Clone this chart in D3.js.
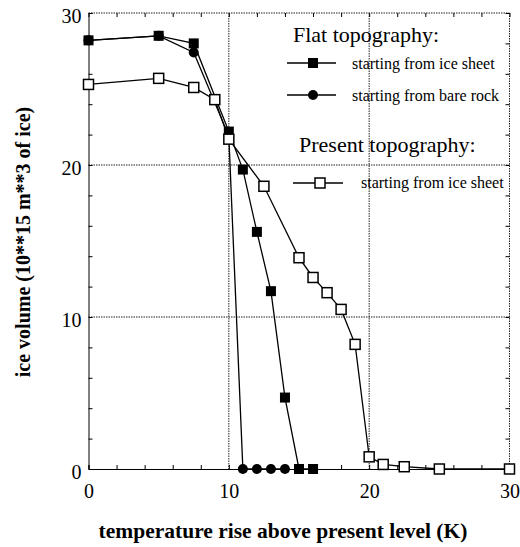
<!DOCTYPE html>
<html>
<head>
<meta charset="utf-8">
<script src="https://cdn.jsdelivr.net/npm/d3@7"></script>
<style>
  body { margin: 0; background: #fff; }
  text { font-family: "Liberation Serif", "Times New Roman", serif; fill: #000; }
</style>
</head>
<body>
<svg id="vis"></svg>
<script>
// temperature rise (K) and ice volume (10**15 m**3)
var flatIceX = [0, 5, 7.5, 10, 11, 12, 13, 14, 15, 16];
var flatIceY = [28.2, 28.5, 28.0, 22.2, 19.7, 15.6, 11.7, 4.7, 0, 0];

var flatRockX = [0, 5, 7.5, 10, 11, 12, 13, 14];
var flatRockY = [28.2, 28.5, 27.4, 21.9, 0, 0, 0, 0];

var presentX = [0, 5, 7.5, 9, 10, 12.5, 15, 16, 17, 18, 19, 20, 21, 22.5, 25, 30];
var presentY = [25.3, 25.7, 25.1, 24.3, 21.7, 18.6, 13.9, 12.6, 11.6, 10.5, 8.2, 0.8, 0.3, 0.15, 0, 0];

var tickVals = d3.range(0, 31, 2);
var labelVals = [0, 10, 20, 30];
var gridVals = [10, 20];

function zip(xs, ys) {
    return xs.map(function (x, i) { return {x: x, y: ys[i]}; });
}

var W = 520, H = 547;
var svg = d3.select("#vis").attr("width", W).attr("height", H);

var xScale = d3.scaleLinear().domain([0, 30]).range([88.5, 509.5]);
var yScale = d3.scaleLinear().domain([0, 30]).range([469, 13]);

var x0 = xScale(0), x1 = xScale(30), y0 = yScale(0), y1 = yScale(30);

// grid lines
svg.selectAll(".vgrid").data(gridVals).enter().append("line")
    .attr("x1", function (d) { return xScale(d); })
    .attr("x2", function (d) { return xScale(d); })
    .attr("y1", y1).attr("y2", y0)
    .attr("stroke", "#222").attr("stroke-width", 1).attr("stroke-dasharray", "1.5,1");
svg.selectAll(".hgrid").data(gridVals).enter().append("line")
    .attr("y1", function (d) { return yScale(d); })
    .attr("y2", function (d) { return yScale(d); })
    .attr("x1", x0).attr("x2", x1)
    .attr("stroke", "#222").attr("stroke-width", 1).attr("stroke-dasharray", "1.5,1");

// frame: top and right dotted
svg.append("line").attr("x1", x0).attr("x2", x1).attr("y1", y1).attr("y2", y1)
    .attr("stroke", "#222").attr("stroke-dasharray", "1.5,1");
svg.append("line").attr("x1", x1).attr("x2", x1).attr("y1", y1).attr("y2", y0)
    .attr("stroke", "#222").attr("stroke-dasharray", "1.5,1");

function fmt(d) { return labelVals.indexOf(d) >= 0 ? d : ""; }

var xAxis = d3.axisBottom(xScale).tickValues(tickVals).tickSize(-4).tickPadding(15).tickFormat(fmt);
var yAxis = d3.axisLeft(yScale).tickValues(tickVals).tickSize(-4).tickPadding(7).tickFormat(fmt);

var gx = svg.append("g").attr("transform", "translate(0," + y0 + ")").call(xAxis);
var gy = svg.append("g").attr("transform", "translate(" + x0 + ",0)").call(yAxis);

svg.append("g").attr("transform", "translate(0," + y1 + ")")
    .call(d3.axisTop(xScale).tickValues(tickVals).tickSize(-4).tickFormat(""))
    .select(".domain").remove();
svg.append("g").attr("transform", "translate(" + x1 + ",0)")
    .call(d3.axisRight(yScale).tickValues(tickVals).tickSize(-4).tickFormat(""))
    .select(".domain").remove();

svg.selectAll(".tick text").style("font-family", "'Liberation Serif', serif").style("font-size", "20px");
gy.selectAll(".tick text").attr("dy", "0.45em");
svg.selectAll(".domain, .tick line").attr("stroke", "#000");

// series
var line = d3.line().x(function (d) { return xScale(d.x); }).y(function (d) { return yScale(d.y); });

var rock = zip(flatRockX, flatRockY);
var ice = zip(flatIceX, flatIceY);
var present = zip(presentX, presentY);

[present, rock, ice].forEach(function (s) {
    svg.append("path").datum(s).attr("d", line)
        .attr("fill", "none").attr("stroke", "#000").attr("stroke-width", 1.3);
});

svg.selectAll(".circ").data(rock).enter().append("circle")
    .attr("cx", function (d) { return xScale(d.x); })
    .attr("cy", function (d) { return yScale(d.y); })
    .attr("r", 5).attr("fill", "#000");

svg.selectAll(".fsq").data(ice).enter().append("rect")
    .attr("x", function (d) { return xScale(d.x) - 5; })
    .attr("y", function (d) { return yScale(d.y) - 5; })
    .attr("width", 10).attr("height", 10).attr("fill", "#000");

svg.selectAll(".osq").data(present).enter().append("rect")
    .attr("x", function (d) { return xScale(d.x) - 5; })
    .attr("y", function (d) { return yScale(d.y) - 5; })
    .attr("width", 10).attr("height", 10)
    .attr("fill", "#fff").attr("stroke", "#000").attr("stroke-width", 1.5);

// legend
svg.append("text").attr("x", 293).attr("y", 42).style("font-size", "22px").text("Flat topography:");
svg.append("text").attr("x", 299).attr("y", 152).style("font-size", "22px").text("Present topography:");

var leg = svg.append("g");
leg.append("line").attr("x1", 287).attr("x2", 336).attr("y1", 63).attr("y2", 63).attr("stroke", "#000").attr("stroke-width", 1.5);
leg.append("rect").attr("x", 308).attr("y", 58).attr("width", 10).attr("height", 10).attr("fill", "#000");
leg.append("text").attr("x", 352).attr("y", 69).style("font-size", "16px").text("starting from ice sheet");

leg.append("line").attr("x1", 287).attr("x2", 336).attr("y1", 95).attr("y2", 95).attr("stroke", "#000").attr("stroke-width", 1.5);
leg.append("circle").attr("cx", 313).attr("cy", 95).attr("r", 5).attr("fill", "#000");
leg.append("text").attr("x", 352).attr("y", 101).style("font-size", "16px").text("starting from bare rock");

leg.append("line").attr("x1", 293).attr("x2", 343).attr("y1", 183).attr("y2", 183).attr("stroke", "#000").attr("stroke-width", 1.5);
leg.append("rect").attr("x", 315).attr("y", 178).attr("width", 10).attr("height", 10)
    .attr("fill", "#fff").attr("stroke", "#000").attr("stroke-width", 1.5);
leg.append("text").attr("x", 361).attr("y", 188).style("font-size", "16px").text("starting from ice sheet");

// axis titles
svg.append("text").attr("x", 283).attr("y", 538).attr("text-anchor", "middle")
    .style("font-size", "21.5px").style("font-weight", "bold")
    .text("temperature rise above present level (K)");

svg.append("text").attr("transform", "translate(30,242) rotate(-90)").attr("text-anchor", "middle")
    .style("font-size", "20px").style("font-weight", "bold")
    .text("ice volume (10**15 m**3 of ice)");
</script>
</body>
</html>
